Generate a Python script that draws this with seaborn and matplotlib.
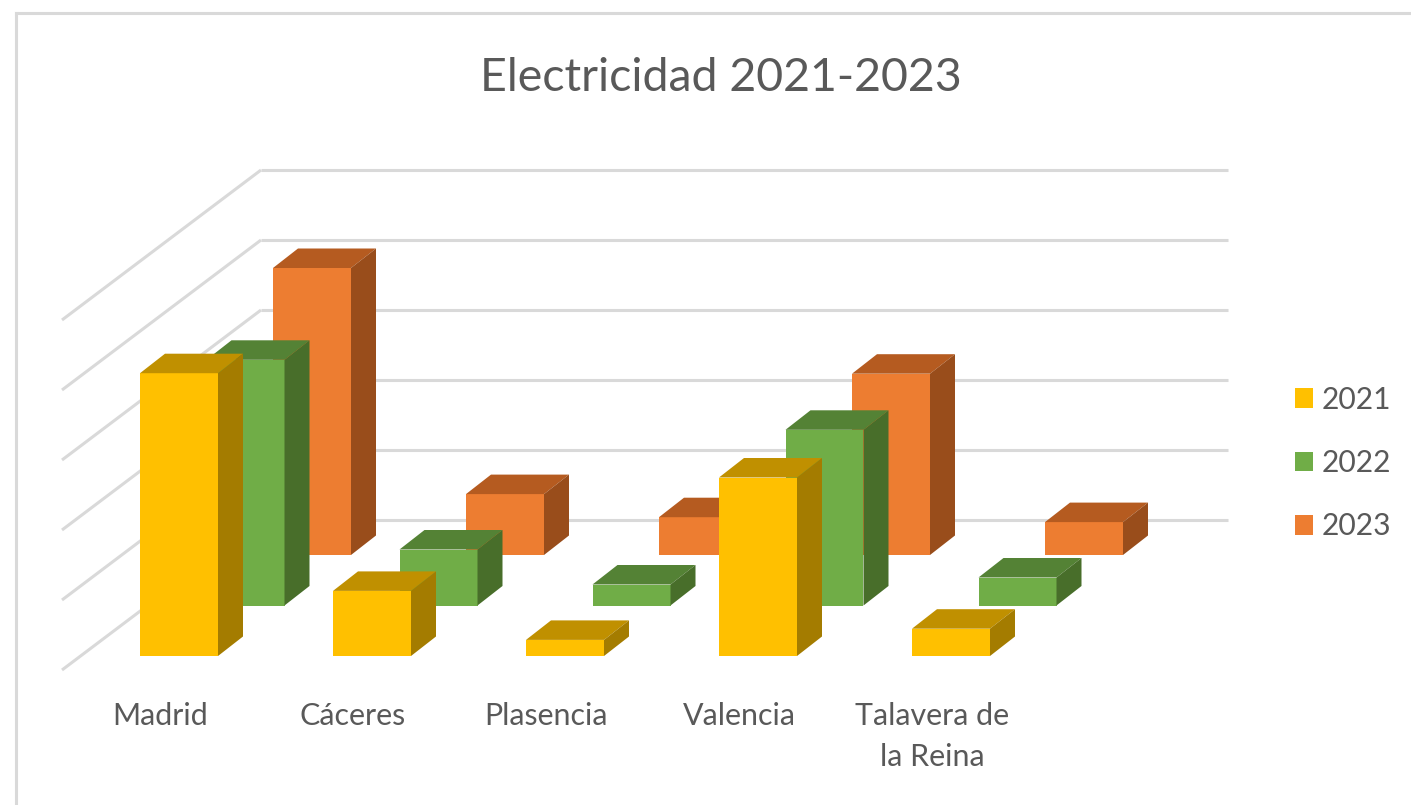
import numpy as np
import pandas as pd
import seaborn as sns
import matplotlib.pyplot as plt

ciudades = ["Madrid", "Cáceres", "Plasencia", "Valencia", "Talavera de\nla Reina"]
anios = ["2021", "2022", "2023"]
v2021 = [4.04, 0.93, 0.23, 2.55, 0.39]
v2022 = [3.51, 0.80, 0.30, 2.51, 0.40]
v2023 = [4.10, 0.87, 0.54, 2.59, 0.47]
valores = [v2021, v2022, v2023]
frente = ["#FFC000", "#70AD47", "#ED7D31"]
tapa = ["#C09000", "#548235", "#B55B20"]
lado = ["#A47C00", "#486E2A", "#994D1B"]

W, H = 1411, 805
UNIDAD = 70.0   # px per value unit
PASO = 193.0    # px between cities
ANCHO = 78.0
PROF_X, PROF_Y = 25.0, 19.5

sns.set_theme(style="white")
plt.rcParams["font.family"] = ["Lato", "DejaVu Sans"]
gris = "#595959"
rejilla = "#D9D9D9"

fig = plt.figure(figsize=(W / 100, H / 100), dpi=100, facecolor="white")


def ejes(x0, y_top, x1, y_bot):
    ax = fig.add_axes([x0 / W, 1 - y_bot / H, (x1 - x0) / W, (y_bot - y_top) / H])
    ax.patch.set_visible(False)
    return ax


# chart frame, only top and left are inside the image
marco = ejes(15.5, 13.5, 1430, 830)
marco.set_xticks([])
marco.set_yticks([])
for s in marco.spines.values():
    s.set_color(rejilla)
    s.set_linewidth(2.2)

# back wall and left wall
pared = ejes(261, 170, 1228, 520)
pared.set_xlim(0, 1)
pared.set_ylim(0, 5)
pared.set_xticks([])
pared.set_yticks(range(6))
pared.tick_params(left=False, labelleft=False)
pared.grid(axis="y", color=rejilla, lw=2.2)
for g in pared.get_ygridlines():
    g.set_clip_on(False)
    g.set_solid_capstyle("butt")
sns.despine(ax=pared, left=True, bottom=True)
for v in range(6):
    pared.plot([0, -199 / 967], [v, v - 150 / UNIDAD], color=rejilla, lw=2.2,
               clip_on=False, solid_capstyle="butt")

# series from back to front, each on its own shifted axes
x_base, y_base = 179.0, 656.0
handles = []
for i in [2, 1, 0]:
    dx, dy = 66.5 * i, -50.5 * i
    ax = ejes(x_base + dx - 0.5 * PASO, y_base + dy - 6 * UNIDAD,
              x_base + dx + 4.5 * PASO, y_base + dy)
    df = pd.DataFrame({"ciudad": ciudades, "valor": valores[i]})
    sns.barplot(data=df, x="ciudad", y="valor", color=frente[i], saturation=1,
                width=ANCHO / PASO, ax=ax, zorder=3, linewidth=0)
    ax.set_xlim(-0.5, 4.5)
    ax.set_ylim(0, 6)
    ax.axis("off")
    px, py = PROF_X / PASO, PROF_Y / UNIDAD
    for b in ax.patches:
        x0, x1, h = b.get_x(), b.get_x() + b.get_width(), b.get_height()
        ax.fill([x0, x0 + px, x1 + px, x1], [h, h + py, h + py, h],
                color=tapa[i], lw=0, zorder=3, clip_on=False)
        ax.fill([x1, x1 + px, x1 + px, x1], [0, py, h + py, h],
                color=lado[i], lw=0, zorder=3, clip_on=False)
    handles.insert(0, ax.patches[0])

# city labels sit on the front edge of the floor
pie = ejes(x_base - 19 - 0.5 * PASO, 600, x_base - 19 + 4.5 * PASO, 670)
pie.set_xlim(-0.5, 4.5)
pie.set_xticks(range(5), ciudades, fontsize=21.9, color=gris, linespacing=1.55)
pie.set_yticks([])
pie.tick_params(axis="x", length=0, pad=23)
sns.despine(ax=pie, left=True, bottom=True)

fig.text(721 / W, 1 - 91 / H, "Electricidad 2021-2023", fontsize=33.5, color=gris,
         ha="center", va="baseline")

fig.legend(handles, anios, loc="center left", bbox_to_anchor=(1294.5 / W, 1 - 463 / H),
           frameon=False, fontsize=21.6, labelcolor=gris, handlelength=0.62,
           handleheight=0.62, handletextpad=0.28, labelspacing=1.18, borderpad=0,
           borderaxespad=0)

fig.savefig("out.png", dpi=100)
